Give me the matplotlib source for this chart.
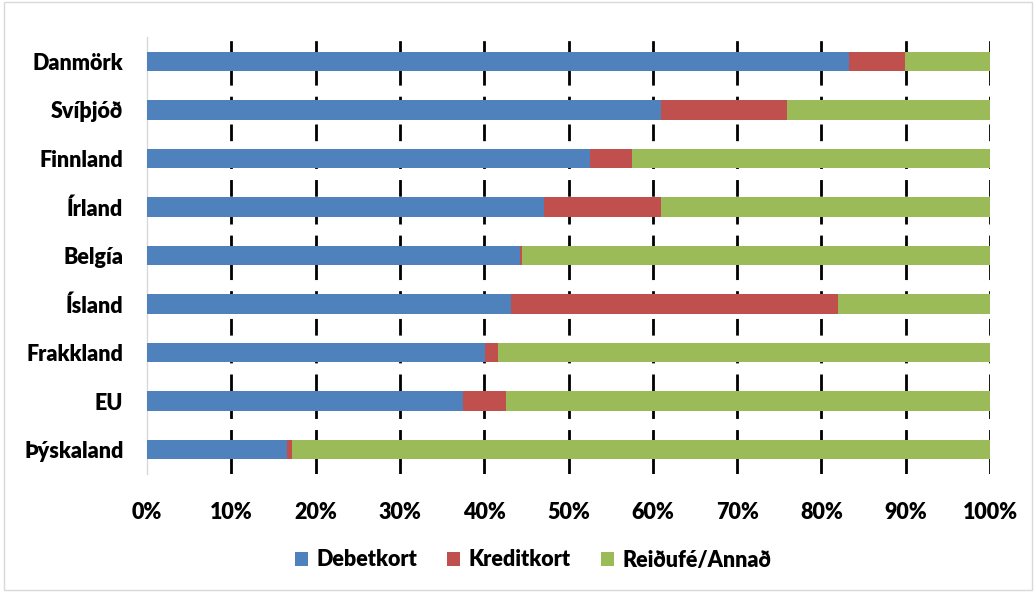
import matplotlib
matplotlib.use("Agg")
import matplotlib.pyplot as plt
from matplotlib.patches import Rectangle
from matplotlib.ticker import FixedLocator, PercentFormatter

plt.rcParams['font.family'] = ['Lato', 'DejaVu Sans']

countries = ["Danmörk", "Svíþjóð", "Finnland", "Írland", "Belgía",
             "Ísland", "Frakkland", "EU", "Þýskaland"]
debet = [83.3, 61.0, 52.6, 47.1, 44.2, 43.2, 40.1, 37.5, 16.6]
kredit = [6.6, 14.9, 4.9, 13.9, 0.3, 38.8, 1.5, 5.1, 0.6]
annad = [100 - d - k for d, k in zip(debet, kredit)]

series_names = ["Debetkort", "Kreditkort", "Reiðufé/Annað"]
colors = ["#4F81BD", "#C0504D", "#9BBB59"]

FS = 15.5
WEIGHT = 'heavy'

fig = plt.figure(figsize=(10.36, 5.92), dpi=100)
ax = fig.add_axes([147 / 1036, 1 - 474 / 592, 843 / 1036, 437 / 592])

ypos = list(range(len(countries)))
left = [0.0] * len(countries)
for vals, name, col in zip([debet, kredit, annad], series_names, colors):
    ax.barh(ypos, vals, left=left, height=0.4, color=col, label=name,
            zorder=3)
    left = [l + v for l, v in zip(left, vals)]

ax.set_xlim(0, 100)
ax.set_ylim(len(countries) - 0.5, -0.5)
ax.set_yticks(ypos)
ax.set_yticklabels(countries, fontsize=FS, fontweight=WEIGHT)
ax.xaxis.set_major_locator(FixedLocator(range(0, 101, 10)))
ax.xaxis.set_major_formatter(PercentFormatter(decimals=0))
for lab in ax.get_xticklabels():
    lab.set_fontsize(FS)
    lab.set_fontweight(WEIGHT)
ax.tick_params(axis='both', length=0)
ax.tick_params(axis='x', pad=20)
ax.tick_params(axis='y', pad=17)

for x in range(10, 101, 10):
    ax.axvline(x, color='black', linewidth=2, linestyle=(0, (6, 4)),
               zorder=2)

for side in ['top', 'right', 'bottom']:
    ax.spines[side].set_visible(False)
ax.spines['left'].set_color('#D9D9D9')
ax.spines['left'].set_linewidth(1)

leg = fig.legend(loc='center', bbox_to_anchor=(533 / 1036, 1 - 560 / 592),
                 ncol=3, frameon=False, prop={'size': FS, 'weight': WEIGHT},
                 handlelength=0.6, handleheight=0.6, handletextpad=0.4,
                 columnspacing=1.4)

fig.patches.append(Rectangle((0.004, 0.003), 0.992, 0.994,
                             transform=fig.transFigure, fill=False,
                             edgecolor='#D9D9D9', linewidth=1))

fig.savefig("out.png", dpi=100)
